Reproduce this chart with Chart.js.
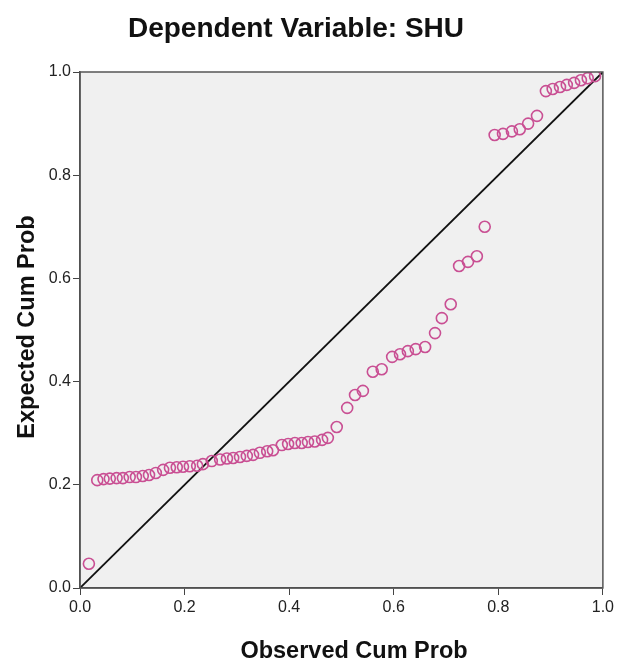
<!DOCTYPE html>
<html>
<head>
<meta charset="utf-8">
<script src="https://cdn.jsdelivr.net/npm/chart.js@4"></script>
<style>
  html, body { margin: 0; padding: 0; background: #fff; }
  #wrap { width: 617px; height: 664px; position: relative; }
</style>
</head>
<body>
<div id="wrap"><canvas id="ppChart"></canvas></div>
<script>
// 관측 누적확률 (x)
const observedCumProb = [
    0.017,
    0.033, 0.045, 0.057, 0.070, 0.082, 0.095, 0.107, 0.120, 0.132, 0.145,
    0.159, 0.172, 0.185, 0.197, 0.210, 0.224, 0.235,
    0.252, 0.268, 0.281, 0.293, 0.306, 0.319, 0.331, 0.344, 0.358, 0.369,
    0.386, 0.398, 0.411, 0.424, 0.436, 0.449, 0.463, 0.474,
    0.491, 0.511, 0.526, 0.541, 0.560, 0.577, 0.597, 0.612, 0.627, 0.642,
    0.660, 0.679, 0.692, 0.709, 0.725, 0.742, 0.759, 0.774,
    0.793, 0.809, 0.826, 0.841, 0.857, 0.874,
    0.891, 0.904, 0.918, 0.931, 0.945, 0.958, 0.971, 0.985
];
// 기대 누적확률 (y)
const expectedCumProb = [
    0.047,
    0.209, 0.211, 0.212, 0.213, 0.213, 0.215, 0.215, 0.217, 0.219, 0.223,
    0.229, 0.233, 0.234, 0.235, 0.236, 0.237, 0.240,
    0.246, 0.249, 0.251, 0.252, 0.254, 0.256, 0.258, 0.262, 0.265, 0.267,
    0.277, 0.279, 0.281, 0.281, 0.283, 0.284, 0.287, 0.291,
    0.312, 0.349, 0.374, 0.382, 0.419, 0.424, 0.448, 0.453, 0.459, 0.463,
    0.467, 0.494, 0.523, 0.550, 0.624, 0.632, 0.643, 0.700,
    0.878, 0.880, 0.885, 0.889, 0.900, 0.915,
    0.963, 0.967, 0.971, 0.975, 0.979, 0.984, 0.988, 0.992
];
// 기준선 (대각선)
const diagonalLine = [0, 1];
const tickValues = [0, 0.2, 0.4, 0.6, 0.8, 1.0];

const chartTitle = 'Dependent Variable: SHU';
const xTitle = 'Observed Cum Prob';
const yTitle = 'Expected Cum Prob';

const FONT = "'Liberation Sans', Arial, sans-serif";

// 배경, 테두리, 제목 그리기
const framePlugin = {
    id: 'frame',
    beforeDraw(chart) {
        const { ctx, chartArea: a } = chart;
        ctx.save();
        ctx.fillStyle = '#f0f0f0';
        ctx.fillRect(a.left, a.top, a.right - a.left, a.bottom - a.top);
        ctx.restore();
    },
    afterDraw(chart) {
        const { ctx, chartArea: a } = chart;
        ctx.save();
        ctx.strokeStyle = '#555';
        ctx.lineWidth = 1.5;
        ctx.strokeRect(a.left, a.top, a.right - a.left, a.bottom - a.top);

        ctx.fillStyle = '#111';
        ctx.textAlign = 'center';
        ctx.textBaseline = 'alphabetic';
        ctx.font = 'bold 28px ' + FONT;
        ctx.fillText(chartTitle, 296, 37);

        ctx.textBaseline = 'middle';
        ctx.font = 'bold 23.5px ' + FONT;
        ctx.fillText(xTitle, 354, 652);

        ctx.translate(28, 327);
        ctx.rotate(-Math.PI / 2);
        ctx.fillText(yTitle, 0, 0);
        ctx.restore();
    }
};

const ctx = document.getElementById('ppChart').getContext('2d');

new Chart(ctx, {
    type: 'scatter',
    data: {
        datasets: [
            {
                label: 'diagonal',
                data: diagonalLine.map(v => ({ x: v, y: v })),
                showLine: true,
                borderColor: '#111',
                borderWidth: 1.8,
                pointRadius: 0,
                order: 2
            },
            {
                label: 'points',
                data: observedCumProb.map((x, i) => ({ x: x, y: expectedCumProb[i] })),
                pointStyle: 'circle',
                pointRadius: 5.5,
                pointBorderWidth: 1.6,
                pointBackgroundColor: 'rgba(0,0,0,0)',
                pointBorderColor: '#c94f93',
                order: 1
            }
        ]
    },
    options: {
        responsive: true,
        maintainAspectRatio: false,
        animation: false,
        layout: {
            padding: { top: 72, right: 14, left: 0, bottom: 0 }
        },
        plugins: {
            legend: { display: false },
            tooltip: { enabled: false }
        },
        scales: {
            x: {
                type: 'linear',
                min: 0,
                max: 1,
                afterFit(scale) { scale.height = 76; },
                afterBuildTicks(scale) { scale.ticks = tickValues.map(v => ({ value: v })); },
                grid: {
                    drawOnChartArea: false,
                    drawTicks: true,
                    tickLength: 7,
                    color: '#444'
                },
                border: { display: true, color: '#444', width: 1.5 },
                ticks: {
                    color: '#222',
                    padding: 3,
                    font: { family: FONT, size: 16 },
                    callback: v => v.toFixed(1)
                }
            },
            y: {
                type: 'linear',
                min: 0,
                max: 1,
                afterFit(scale) { scale.width = 80; },
                afterBuildTicks(scale) { scale.ticks = tickValues.map(v => ({ value: v })); },
                grid: {
                    drawOnChartArea: false,
                    drawTicks: true,
                    tickLength: 7,
                    color: '#444'
                },
                border: { display: true, color: '#444', width: 1.5 },
                ticks: {
                    color: '#222',
                    padding: 2,
                    font: { family: FONT, size: 16 },
                    callback: v => v.toFixed(1)
                }
            }
        }
    },
    plugins: [framePlugin]
});
</script>
</body>
</html>
